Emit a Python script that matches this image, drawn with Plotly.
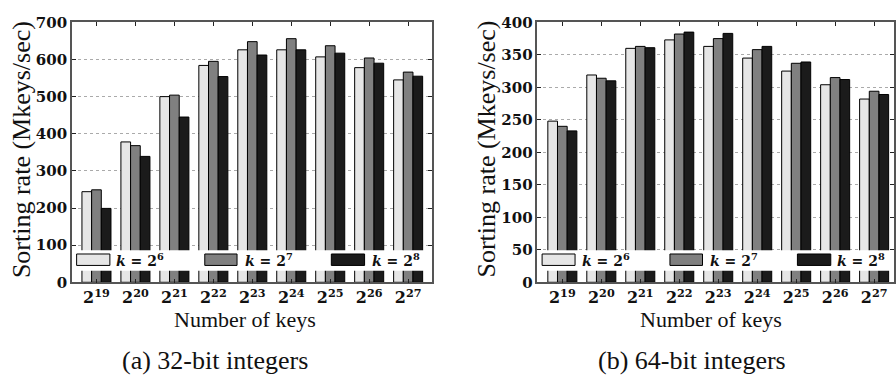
import plotly.graph_objects as go

# ---------------- data ----------------
categories = ["2<sup>19</sup>", "2<sup>20</sup>", "2<sup>21</sup>", "2<sup>22</sup>", "2<sup>23</sup>",
              "2<sup>24</sup>", "2<sup>25</sup>", "2<sup>26</sup>", "2<sup>27</sup>"]
series_names = ["k = 2<sup>6</sup>", "k = 2<sup>7</sup>", "k = 2<sup>8</sup>"]
legend_labels = ["<i>k</i> = 2<sup>6</sup>", "<i>k</i> = 2<sup>7</sup>", "<i>k</i> = 2<sup>8</sup>"]

int32_k6 = [244, 378, 500, 584, 626, 626, 607, 578, 545]
int32_k7 = [249, 368, 504, 595, 648, 656, 637, 604, 566]
int32_k8 = [199, 339, 445, 554, 612, 626, 617, 590, 555]

int64_k6 = [248, 319, 360, 373, 363, 345, 325, 304, 282]
int64_k7 = [240, 314, 363, 382, 375, 358, 337, 315, 294]
int64_k8 = [233, 310, 361, 385, 383, 363, 339, 312, 289]

y_ticks_32 = [0, 100, 200, 300, 400, 500, 600, 700]
y_ticks_64 = [0, 50, 100, 150, 200, 250, 300, 350, 400]

x_title = "Number of keys"
y_title = "Sorting rate (Mkeys/sec)"
captions = ["(a) 32-bit integers", "(b) 64-bit integers"]

# ---------------- style ----------------
W, H = 896, 385
colors = ["#e6e6e6", "#808080", "#1b1b1b"]
SERIF = "Liberation Serif, serif"
BOLD = "DejaVu Serif, Liberation Serif, serif"


def px(x):
    return x / W


def py(y):
    return 1 - y / H


plot_top, plot_bot = 14, 286.7
left_dom = (72, 432)
right_dom = (538, 895)

fig = go.Figure()

for vals, name, col in zip([int32_k6, int32_k7, int32_k8], series_names, colors):
    fig.add_trace(go.Bar(x=categories, y=vals, name=name, marker=dict(color=col, line=dict(color="#000000", width=1)),
                         xaxis="x", yaxis="y", showlegend=False))
for vals, name, col in zip([int64_k6, int64_k7, int64_k8], series_names, colors):
    fig.add_trace(go.Bar(x=categories, y=vals, name=name, marker=dict(color=col, line=dict(color="#000000", width=1)),
                         xaxis="x2", yaxis="y2", showlegend=False))

axis_common = dict(showline=True, linecolor="#555555", linewidth=1.5, mirror="ticks", ticks="inside",
                   ticklen=4, tickcolor="#222222", zeroline=False)
xtick_font = dict(family=BOLD, size=16, color="#111111", weight="bold")
ytick_font = dict(family=BOLD, size=15, color="#111111", weight="bold")

fig.update_layout(
    width=W, height=H, margin=dict(l=0, r=0, t=0, b=0),
    paper_bgcolor="white", plot_bgcolor="white",
    barmode="group", bargap=0.255, bargroupgap=0,
    xaxis=dict(domain=[px(left_dom[0]), px(left_dom[1])], anchor="y", type="category",
               categoryorder="array", categoryarray=categories, range=[-0.63, 8.6],
               showgrid=False, tickfont=xtick_font, **axis_common),
    yaxis=dict(domain=[py(plot_bot), py(plot_top)], anchor="x", range=[0, 700], tickvals=y_ticks_32,
               showgrid=True, gridcolor="#aaaaaa", griddash="dot", gridwidth=1,
               tickfont=ytick_font, **axis_common),
    xaxis2=dict(domain=[px(right_dom[0]), px(right_dom[1])], anchor="y2", type="category",
                categoryorder="array", categoryarray=categories, range=[-0.64, 8.51],
                showgrid=False, tickfont=xtick_font, **axis_common),
    yaxis2=dict(domain=[py(plot_bot), py(plot_top)], anchor="x2", range=[0, 400], tickvals=y_ticks_64,
                showgrid=True, gridcolor="#aaaaaa", griddash="dot", gridwidth=1,
                tickfont=ytick_font, **axis_common),
)

shapes = []
annotations = []

# custom legends (white strip with long swatches)
legend_specs = [
    (left_dom, [(76.7, 110), (205, 237.3), (331.7, 365)], [114, 243, 370]),
    (right_dom, [(542.7, 575.7), (670.7, 703.3), (798.3, 831.7)], [581, 709, 836]),
]
for dom, sw, tx in legend_specs:
    shapes.append(dict(type="rect", xref="paper", yref="paper", layer="above",
                       x0=px(dom[0] + 1.5), x1=px(dom[1] - 1), y0=py(274.5), y1=py(253),
                       fillcolor="white", line=dict(width=0)))
    for (x0, x1), t, col, lab in zip(sw, tx, colors, legend_labels):
        shapes.append(dict(type="rect", xref="paper", yref="paper", layer="above",
                           x0=px(x0), x1=px(x1), y0=py(269), y1=py(257),
                           fillcolor=col, line=dict(color="#000000", width=1)))
        annotations.append(dict(x=px(t), y=py(263.5), xref="paper", yref="paper", text=lab,
                                showarrow=False, xanchor="left", yanchor="middle",
                                font=dict(family=BOLD, size=14, color="#111111", weight="bold")))

# titles and captions
for ytx, xc in [(21, 245.5), (487, 712)]:
    annotations.append(dict(x=px(ytx), y=py(147), xref="paper", yref="paper", text=y_title, textangle=-90,
                            showarrow=False, xanchor="center", yanchor="middle",
                            font=dict(family=SERIF, size=26, color="#111111")))
    annotations.append(dict(x=px(xc), y=py(326), xref="paper", yref="paper", text=x_title,
                            showarrow=False, xanchor="center", yanchor="middle",
                            font=dict(family=SERIF, size=22, color="#111111")))
for cap, cx in zip(captions, [215, 693]):
    annotations.append(dict(x=px(cx), y=py(369), xref="paper", yref="paper", text=cap,
                            showarrow=False, xanchor="center", yanchor="middle",
                            font=dict(family=SERIF, size=26, color="#111111")))

fig.update_layout(shapes=shapes, annotations=annotations)

fig.write_html("out.html", config={"displayModeBar": False},
               post_script="document.body.style.margin='0';document.body.style.overflow='hidden';")
